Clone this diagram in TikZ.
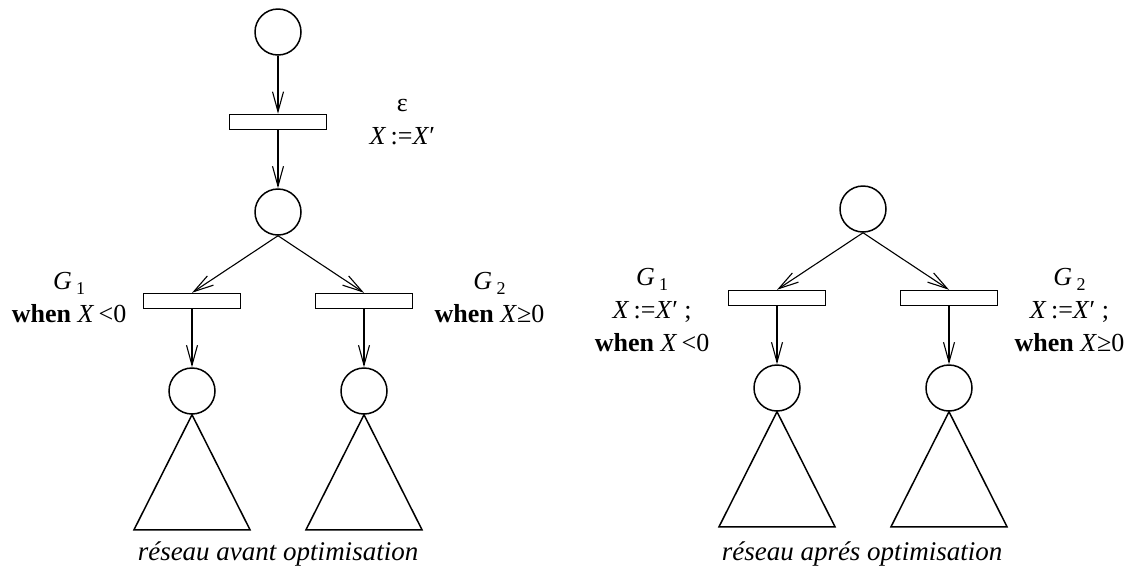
\documentclass[tikz,border=0pt]{standalone}
\usepackage{fontspec}
\setmainfont{Liberation Serif}
\usetikzlibrary{
  arrows.meta,
  positioning
}
\newcommand{\var}[1]{\textit{#1}}
\newcommand{\grd}[1]{\textit{G}\,\raisebox{-0.4ex}{\small #1}}
\newcommand{\assign}{\var{X}\,:=\var{X}′}
\tikzset{
  place/.style={
    circle,
    draw,
    line width=0.75pt,
    minimum size=23pt,
    inner sep=0pt
  },
  trans/.style={
    rectangle,
    draw,
    line width=0.75pt,
    minimum width=48.5pt,
    minimum height=7.5pt,
    inner sep=0pt
  },
  arc/.style={
    -{Straight Barb[length=10pt,width=5.5pt]},
    line width=0.55pt
  },
  guard/.style={
    align=center,
    inner sep=0pt,
    font=\fontsize{13}{16.5}\selectfont
  },
  subnet/.style={
    line width=0.75pt,
    line join=miter
  },
  caption/.style={
    inner sep=0pt,
    font=\itshape\fontsize{13.5}{15}\selectfont
  }
}

\begin{document}
\begin{tikzpicture}[x=0.5pt, y=-0.5pt, node distance=29pt]
  \useasboundingbox (0,0) rectangle (1138,574);

  % reseau avant optimisation
  \node[place] (a0) at (278,32) {};
  \node[trans, below=of a0] (ae) {};
  \node[place, below=of ae] (a1) {};
  \node[trans, below=28.5pt of a1, xshift=-43pt] (ag1) {};
  \node[trans, below=28.5pt of a1, xshift=43pt] (ag2) {};
  \node[place, below=of ag1] (a2) {};
  \node[place, below=of ag2] (a3) {};

  \node[guard, right=21pt of ae] (ae-lab) {ε\\\assign};
  \node[guard, left=8pt of ag1, yshift=1.5pt] (ag1-lab) {\grd{1}\\\textbf{when} \var{X}\,<0};
  \node[guard, right=10.5pt of ag2, yshift=1.5pt] (ag2-lab) {\grd{2}\\\textbf{when} \var{X}≥0};

  \draw[arc] (a0) -- (ae);
  \draw[arc] (ae) -- (a1);
  \draw[arc] (a1.south) -- (ag1.north);
  \draw[arc] (a1.south) -- (ag2.north);
  \draw[arc] (ag1) -- (a2);
  \draw[arc] (ag2) -- (a3);

  \draw[subnet] (a2.south) -- ++(-58,115) -- ++(116,0) -- cycle;
  \draw[subnet] (a3.south) -- ++(-58,115) -- ++(116,0) -- cycle;

  \node[caption] (a-cap) at (278,554) {réseau avant optimisation};

  % reseau apres optimisation
  \node[place] (b1) at (863,209) {};
  \node[trans, below=28.5pt of b1, xshift=-43pt] (bg1) {};
  \node[trans, below=28.5pt of b1, xshift=43pt] (bg2) {};
  \node[place, below=of bg1] (b2) {};
  \node[place, below=of bg2] (b3) {};

  \node[guard, left=9pt of bg1, yshift=-6pt] (bg1-lab) {\grd{1}\\\assign\ ;\\\textbf{when} \var{X}\,<0};
  \node[guard, right=8pt of bg2, yshift=-6pt] (bg2-lab) {\grd{2}\\\assign\ ;\\\textbf{when} \var{X}≥0};

  \draw[arc] (b1.south) -- (bg1.north);
  \draw[arc] (b1.south) -- (bg2.north);
  \draw[arc] (bg1) -- (b2);
  \draw[arc] (bg2) -- (b3);

  \draw[subnet] (b2.south) -- ++(-58,115) -- ++(116,0) -- cycle;
  \draw[subnet] (b3.south) -- ++(-58,115) -- ++(116,0) -- cycle;

  \node[caption] (b-cap) at (862,554) {réseau aprés optimisation};
\end{tikzpicture}
\end{document}
